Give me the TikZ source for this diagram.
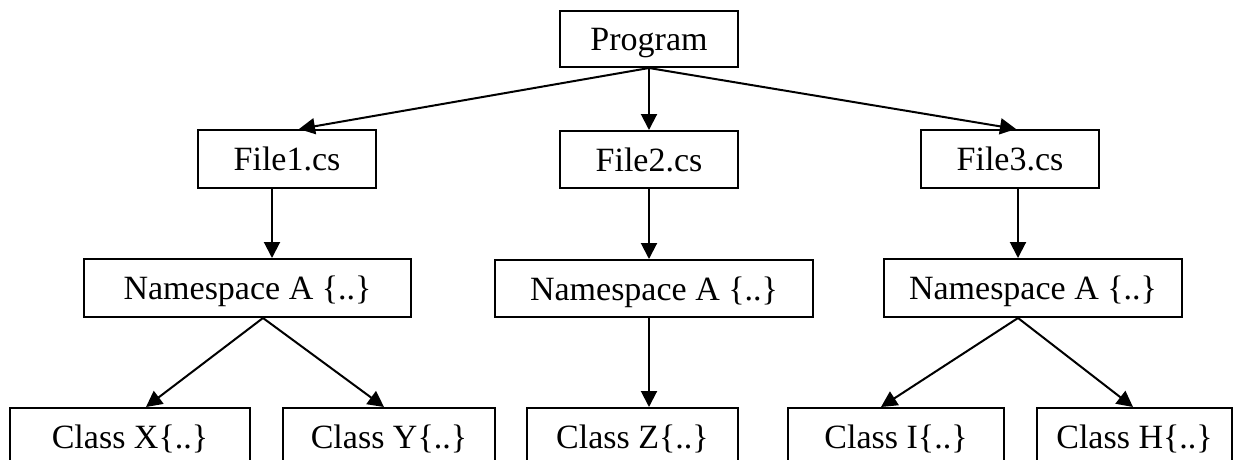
\documentclass[tikz,border=0pt]{standalone}
\usepackage{fontspec}
\setmainfont{Liberation Serif}
\usetikzlibrary{arrows.meta}
\begin{document}
\begin{tikzpicture}[x=1pt,y=-1pt,
  box/.style={draw,line width=2pt,anchor=north west,inner sep=0pt,
    text height=23pt,text depth=0pt,
    font=\fontsize{34}{40}\selectfont},
  arr/.style={line width=2pt,-{Triangle[length=16pt,width=16pt]}}]
\useasboundingbox (0,0) rectangle (1240,459);
\clip (0,0) rectangle (1240,459);
\node[box,minimum width=178pt,minimum height=56pt] (prog) at (559,10) {Program};
\node[box,minimum width=178pt,minimum height=58pt] (f1) at (197,129) {File1.cs};
\node[box,minimum width=178pt,minimum height=57pt] (f2) at (559,130) {File2.cs};
\node[box,minimum width=178pt,minimum height=58pt] (f3) at (920,129) {File3.cs};
\node[box,minimum width=327pt,minimum height=58pt] (n1) at (83,258) {Namespace A \{..\}};
\node[box,minimum width=318pt,minimum height=57pt] (n2) at (494,259) {Namespace A \{..\}};
\node[box,minimum width=298pt,minimum height=58pt] (n3) at (883,258) {Namespace A \{..\}};
\node[box,minimum width=240pt,minimum height=58pt] (cx) at (9,407) {Class X\{..\}};
\node[box,minimum width=212pt,minimum height=58pt] (cy) at (282,407) {Class Y\{..\}};
\node[box,minimum width=211pt,minimum height=58pt] (cz) at (526,407) {Class Z\{..\}};
\node[box,minimum width=216pt,minimum height=58pt] (ci) at (787,407) {Class I\{..\}};
\node[box,minimum width=195pt,minimum height=58pt] (ch) at (1036,407) {Class H\{..\}};
% Program to files
\draw[arr] (prog.south) -- ([xshift=12pt]f1.north);
\draw[arr] (prog.south) -- (prog.south |- f2.north);
\draw[arr] (prog.south) -- ([xshift=6pt]f3.north);
% files to namespaces
\draw[arr] ([xshift=-15pt]f1.south) -- ([xshift=24.5pt]n1.north);
\draw[arr] (f2.south) -- (f2.south |- n2.north);
\draw[arr] ([xshift=8pt]f3.south) -- ([xshift=-15pt]n3.north);
% namespaces to classes
\draw[arr] ([xshift=15.5pt]n1.south) -- ([xshift=16pt]cx.north);
\draw[arr] ([xshift=15.5pt]n1.south) -- ([xshift=-5pt]cy.north);
\draw[arr] (f2.south |- n2.south) -- (f2.south |- cz.north);
\draw[arr] ([xshift=-15pt]n3.south) -- ([xshift=-15pt]ci.north);
\draw[arr] ([xshift=-15pt]n3.south) -- ([xshift=-1.5pt]ch.north);
\end{tikzpicture}
\end{document}
